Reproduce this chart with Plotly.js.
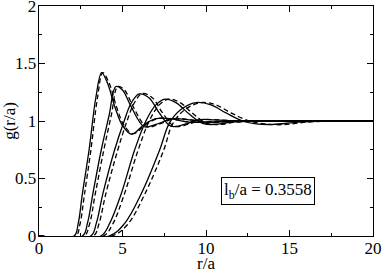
<!DOCTYPE html>
<html><head><meta charset="utf-8">
<script src="https://cdn.plot.ly/plotly-3.0.1.min.js"></script>
<style>html,body{margin:0;padding:0;background:#fff}#plot{width:382px;height:273px}</style>
</head><body><div id="plot"></div>
<script>
// Solid curves (r/a, g)
const x1s = [0,2.1,2.35,2.6,3.0,3.4,3.75,4.1,4.55,5.0,5.55,6.3,7.0,7.8,9,10,12,15,20];
const y1s = [0,0,0.11,0.37,0.75,1.2,1.42,1.33,1.12,0.96,0.885,0.97,1.02,1.02,0.99,0.99,1.0,1.0,1.0];
const x2s = [0,2.6,2.9,3.23,3.73,4.2,4.6,5.0,5.5,6.3,7.0,8.0,9,10,12,15,20];
const y2s = [0,0,0.11,0.37,0.75,1.05,1.30,1.27,1.13,0.95,0.97,1.02,1.01,0.99,1.0,1.0,1.0];
const x3s = [0,3.1,3.43,3.83,4.53,5.1,5.5,6.0,6.6,7.2,7.9,8.7,9.5,10.5,12,15,20];
const y3s = [0,0,0.11,0.37,0.75,1.0,1.15,1.235,1.2,1.07,0.955,0.97,1.01,1.01,1.0,1.0,1.0];
const x4s = [0,3.7,4.23,4.93,5.73,6.4,7.0,7.55,8.2,9.0,9.8,10.5,11.5,13,15,20];
const y4s = [0,0,0.11,0.37,0.75,1.0,1.14,1.19,1.16,1.06,0.98,0.97,0.99,1.0,1.0,1.0];
const x5s = [0,4.2,5.13,6.13,7.23,7.8,8.5,9.4,10.3,11.2,12.2,13,14,15.5,17,20];
const y5s = [0,0,0.11,0.37,0.75,0.98,1.1,1.16,1.14,1.07,1.0,0.975,0.97,0.99,1.0,1.0];
// Dashed curves
const x1d = [0,2.2,2.45,2.72,3.1,3.5,3.82,4.2,4.65,5.1,5.65,6.4,7.1,7.9,9,10,12,15,20];
const y1d = [0,0,0.1,0.36,0.74,1.2,1.42,1.33,1.12,0.96,0.89,0.97,1.02,1.02,0.99,0.99,1.0,1.0,1.0];
const x2d = [0,2.7,3.02,3.36,3.87,4.33,4.72,5.12,5.62,6.45,7.15,8.1,9.1,10,12,15,20];
const y2d = [0,0,0.1,0.36,0.74,1.05,1.30,1.27,1.13,0.95,0.97,1.02,1.01,0.99,1.0,1.0,1.0];
const x3d = [0,3.25,3.58,3.99,4.7,5.27,5.68,6.18,6.8,7.4,8.1,8.9,9.7,10.7,12,15,20];
const y3d = [0,0,0.1,0.36,0.74,1.0,1.15,1.24,1.2,1.07,0.955,0.97,1.01,1.01,1.0,1.0,1.0];
const x4d = [0,3.85,4.4,5.1,5.92,6.6,7.2,7.75,8.45,9.25,10.05,10.8,11.8,13.3,15,20];
const y4d = [0,0,0.1,0.36,0.74,1.0,1.14,1.19,1.16,1.06,0.98,0.97,0.99,1.0,1.0,1.0];
const x5d = [0,4.35,5.3,6.32,7.45,8.02,8.75,9.7,10.6,11.5,12.6,13.5,14.6,16,17.5,20];
const y5d = [0,0,0.1,0.36,0.74,0.98,1.1,1.16,1.14,1.07,1.0,0.975,0.968,0.99,1.0,1.0];

const xTicks = [0,5,10,15,20];
const yTicks = [0,0.5,1,1.5,2];
const yTickText = ['0','0.5','1','1.5','2'];
const labelText = 'l<sub>b</sub>/a = 0.3558';

const solid = [[x1s,y1s],[x2s,y2s],[x3s,y3s],[x4s,y4s],[x5s,y5s]];
const dashed = [[x1d,y1d],[x2d,y2d],[x3d,y3d],[x4d,y4d],[x5d,y5d]];
const traces = [];
solid.forEach(([x,y])=>traces.push({x,y,mode:'lines',line:{color:'#000',width:1.3,shape:'spline',smoothing:1},hoverinfo:'skip'}));
dashed.forEach(([x,y])=>traces.push({x,y,mode:'lines',line:{color:'#000',width:1.3,dash:'5px,3px',shape:'spline',smoothing:1},hoverinfo:'skip'}));

const font = {family:'Liberation Serif, Times New Roman, Times, serif', size:17, color:'#000'};
const axisCommon = {showgrid:false, zeroline:false, showline:true, linecolor:'#000', linewidth:1.3,
  mirror:'allticks', ticks:'inside', ticklen:6, tickwidth:1, tickcolor:'#000', tickfont:font,
  ticklabeloverflow:'allow'};
const layout = {
  width:382, height:273, margin:{l:39,r:9,t:6,b:37}, showlegend:false,
  paper_bgcolor:'#fff', plot_bgcolor:'#fff', font:font,
  xaxis:Object.assign({}, axisCommon, {range:[0,20], tickvals:xTicks, ticktext:xTicks.map(String),
    ticklabelstandoff:-4,
    minor:{ticks:'inside', ticklen:3, dtick:2.5, tick0:0, tickcolor:'#000'},
    title:{text:'r/a', font:font, standoff:6}}),
  yaxis:Object.assign({}, axisCommon, {range:[0,2], tickvals:yTicks, ticktext:yTickText,
    ticklabelstandoff:-2,
    minor:{ticks:'inside', ticklen:3, dtick:0.25, tick0:0, tickcolor:'#000'},
    title:{text:'g(r/a)', font:font, standoff:4}}),
  annotations:[{x:13.7, y:0.39, xref:'x', yref:'y', text:labelText, showarrow:false,
    font:{family:font.family, size:17, color:'#000'}, bordercolor:'#000', borderwidth:1, borderpad:2, bgcolor:'#fff'}]
};
Plotly.newPlot('plot', traces, layout, {staticPlot:true, displayModeBar:false});
</script></body></html>
